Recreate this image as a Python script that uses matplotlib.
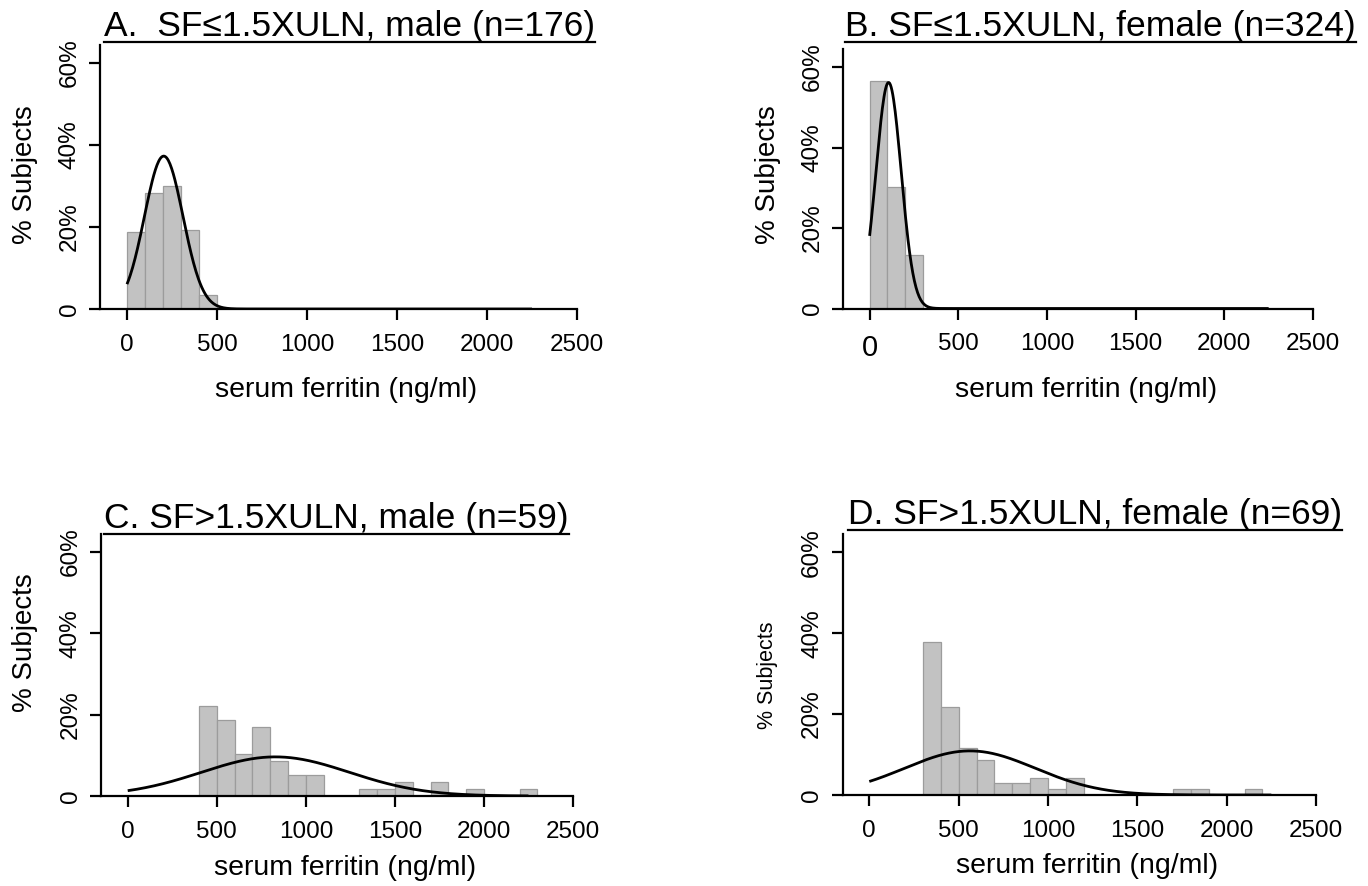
import numpy as np
import matplotlib
matplotlib.use("Agg")
import matplotlib.pyplot as plt
from matplotlib.lines import Line2D

plt.rcParams['font.family'] = ['Liberation Sans', 'DejaVu Sans']

# ---------------- data ----------------
bin_width = 100  # ng/ml

A_title = "A.  SF\u22641.5XULN, male (n=176)"
A_bin_left = [0, 100, 200, 300, 400]
A_pct = [18.8, 28.4, 30.1, 19.3, 3.4]
A_mean, A_sd = 204, 107

B_title = "B. SF\u22641.5XULN, female (n=324)"
B_bin_left = [0, 100, 200]
B_pct = [56.5, 30.2, 13.3]
B_mean, B_sd = 107, 71

C_title = "C. SF>1.5XULN, male (n=59)"
C_bin_left = [400, 500, 600, 700, 800, 900, 1000, 1300, 1400, 1500, 1700, 1900, 2200]
C_pct = [22.0, 18.6, 10.2, 16.9, 8.5, 5.1, 5.1, 1.7, 1.7, 3.4, 3.4, 1.7, 1.7]
C_mean, C_sd = 829, 415

D_title = "D. SF>1.5XULN, female (n=69)"
D_bin_left = [300, 400, 500, 600, 700, 800, 900, 1000, 1100, 1700, 1800, 2100]
D_pct = [37.7, 21.7, 11.6, 8.7, 2.9, 2.9, 4.3, 1.4, 4.3, 1.4, 1.4, 1.4]
D_mean, D_sd = 563, 366

curve_range = (0, 2250)
x_ticks = [0, 500, 1000, 1500, 2000, 2500]
x_ticklabels = ["0", "500", "1000", "1500", "2000", "2500"]
y_ticks = [0, 20, 40, 60]
y_ticklabels = ["0", "20%", "40%", "60%"]
x_label = "serum ferritin (ng/ml)"
y_label = "% Subjects"

# ---------------- layout ----------------
W, H = 1368, 886
fig = plt.figure(figsize=(W / 100, H / 100), dpi=100)

XLIM = (-150, 2500)
YLIM = (0, 64.5)

panels = [
    dict(title=A_title, left=A_bin_left, pct=A_pct, mean=A_mean, sd=A_sd,
         box=(100, 577, 309, 44.5), tpos=(104, 36), ylab_x=25, ylab_y=175,
         ylab_fs=20, xlab_y=390),
    dict(title=B_title, left=B_bin_left, pct=B_pct, mean=B_mean, sd=B_sd,
         box=(843, 1313, 308.5, 49), tpos=(845, 36), ylab_x=768, ylab_y=175,
         ylab_fs=20, xlab_y=390, big_zero=True),
    dict(title=C_title, left=C_bin_left, pct=C_pct, mean=C_mean, sd=C_sd,
         box=(101, 573, 796, 533.5), tpos=(104, 528), ylab_x=25, ylab_y=643,
         ylab_fs=20, xlab_y=868),
    dict(title=D_title, left=D_bin_left, pct=D_pct, mean=D_mean, sd=D_sd,
         box=(842.5, 1316, 795, 534), tpos=(848, 524), ylab_x=768, ylab_y=675,
         ylab_fs=15.5, xlab_y=866),
]

fig.canvas.draw()
renderer = fig.canvas.get_renderer()

for p in panels:
    x0, x1, yb, yt = p['box']
    ax = fig.add_axes([x0 / W, 1 - yb / H, (x1 - x0) / W, (yb - yt) / H])
    ax.bar(p['left'], p['pct'], width=bin_width, align='edge',
           color='#c2c2c2', edgecolor='#9c9c9c', linewidth=0.9, zorder=2)
    xs = np.linspace(curve_range[0], curve_range[1], 500)
    ys = 100 * bin_width * np.exp(-0.5 * ((xs - p['mean']) / p['sd']) ** 2) / (p['sd'] * np.sqrt(2 * np.pi))
    ax.plot(xs, ys, color='black', lw=2.0, zorder=3, solid_capstyle='butt')

    ax.set_xlim(*XLIM)
    ax.set_ylim(*YLIM)
    for s in ('top', 'right'):
        ax.spines[s].set_visible(False)
    for s in ('left', 'bottom'):
        ax.spines[s].set_linewidth(1.6)
    ax.set_xticks(x_ticks)
    ax.set_xticklabels(x_ticklabels)
    ax.set_yticks(y_ticks)
    ax.set_yticklabels(y_ticklabels)
    ax.tick_params(axis='both', direction='out', length=8, width=1.6,
                   labelsize=17.5, colors='black')
    ax.tick_params(axis='x', pad=10)
    ax.tick_params(axis='y', pad=6, labelrotation=90)
    for lab in ax.get_yticklabels():
        lab.set_va('center')
    if p.get('big_zero'):
        zl = ax.get_xticklabels()[0]
        zl.set_fontsize(21)

    ah = yb - yt
    aw = x1 - x0
    ax.set_xlabel(x_label, fontsize=20.5)
    ax.xaxis.set_label_coords(((x0 + x1) / 2 + 8 - x0) / aw, (yb - p['xlab_y']) / ah)
    ax.xaxis.label.set_va('center')
    ax.set_ylabel(y_label, fontsize=p['ylab_fs'])
    ax.yaxis.set_label_coords((p['ylab_x'] - x0) / aw, (yb - p['ylab_y']) / ah)
    ax.yaxis.label.set_va('center')

    # title with underline
    tx, ty = p['tpos']
    t = fig.text(tx / W, 1 - ty / H, p['title'], fontsize=25.5,
                 ha='left', va='baseline')
    bb = t.get_window_extent(renderer=renderer)
    uy = (H - ty - 6) / H
    fig.add_artist(Line2D([bb.x0 / W, bb.x1 / W], [uy, uy],
                          transform=fig.transFigure, color='black', lw=1.6))

fig.savefig("out.png", dpi=100)
